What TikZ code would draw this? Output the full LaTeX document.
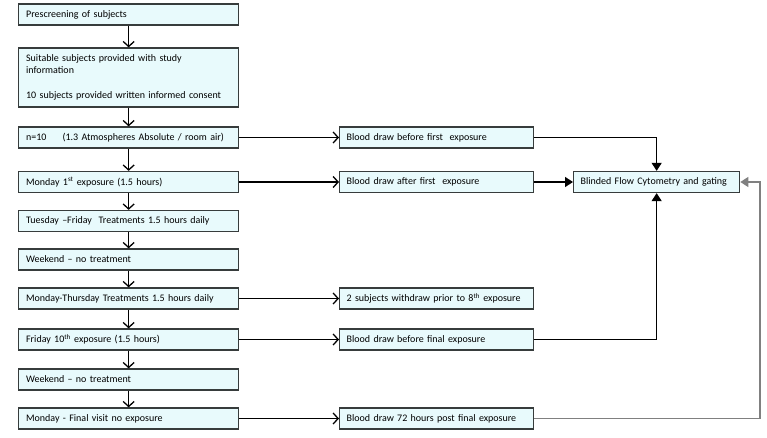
\documentclass[tikz,border=0pt]{standalone}
\usepackage{fontspec}
\setmainfont{Carlito}
\usetikzlibrary{arrows.meta}

\definecolor{boxfill}{RGB}{232,250,252}
\definecolor{boxline}{RGB}{55,60,60}

\tikzset{
    stage/.style={draw=boxline, line width=1.3pt, fill=boxfill, anchor=west, text width=205pt,
        inner xsep=7.5pt, inner ysep=0pt, minimum height=21pt, align=left,
        font=\fontsize{10}{12}\selectfont},
    sample/.style={stage, text width=180pt, inner xsep=7pt},
    goes/.style={line width=1.3pt, -{Straight Barb[length=5pt,width=11pt,line width=1.3pt]}},
    feeds/.style={line width=1.3pt, -{Triangle[length=8pt,width=10pt]}}
}

\begin{document}
\begin{tikzpicture}[x=1pt, y=-1pt]
            \useasboundingbox (0,0) rectangle (767,438);

            \node[stage] (pre) at (18,14.5) {Prescreening of subjects};
            \node[stage, minimum height=59pt] (info) at (18,77.5) {Suitable subjects provided with study\\information\\[13pt]10 subjects provided written informed consent};
            \node[stage] (air) at (18,137.5) {n=10\hspace{1.6em}(1.3 Atmospheres Absolute / room air)};
            \node[stage] (first) at (18,182) {Monday 1\textsuperscript{st} exposure (1.5 hours)};
            \node[stage] (tuefri) at (18,221) {Tuesday --Friday\ \ Treatments 1.5 hours daily};
            \node[stage] (wkend) at (18,259.5) {Weekend -- no treatment};
            \node[stage] (monthu) at (18,298.5) {Monday-Thursday Treatments 1.5 hours daily};
            \node[stage] (tenth) at (18,339.5) {Friday 10\textsuperscript{th} exposure (1.5 hours)};
            \node[stage] (wkendb) at (18,379.5) {Weekend -- no treatment};
            \node[stage] (final) at (18,418.5) {Monday - Final visit no exposure};

            \node[sample] (drawpre) at (339,137.5) {Blood draw before first\ \ exposure};
            \node[sample] (drawpost) at (339,182) {Blood draw after first\ \ exposure};
            \node[sample] (withdraw) at (339,298.5) {2 subjects withdraw prior to 8\textsuperscript{th} exposure};
            \node[sample] (drawlast) at (339,339.5) {Blood draw before final exposure};
            \node[sample] (drawpost72) at (339,418.5) {Blood draw 72 hours post final exposure};

            \node[sample, text width=152pt] (flow) at (573,182) {Blinded\ Flow Cytometry and gating};
            \coordinate (turn) at (760,0);

            \draw[goes] (pre) -- (info);
            \draw[goes] (info) -- (air);
            \draw[goes] (air) -- (first);
            \draw[goes] (first) -- (tuefri);
            \draw[goes] (tuefri) -- (wkend);
            \draw[goes] (wkend) -- (monthu);
            \draw[goes] (monthu) -- (tenth);
            \draw[goes] (tenth) -- (wkendb);
            \draw[goes] (wkendb) -- (final);

            \draw[goes] (air) -- (drawpre);
            \draw[goes] (first) -- (drawpost);
            \draw[goes] (monthu) -- (withdraw);
            \draw[goes] (tenth) -- (drawlast);
            \draw[goes] (final) -- (drawpost72);

            \draw[feeds] (drawpre.east) -| (flow.north);
            \draw[feeds] (drawpost) -- (flow);
            \draw[feeds] (drawlast.east) -| (flow.south);
            \draw[feeds, draw=gray] (drawpost72.east) -- (drawpost72.east -| turn) |- (flow.east);
\end{tikzpicture}
\end{document}
